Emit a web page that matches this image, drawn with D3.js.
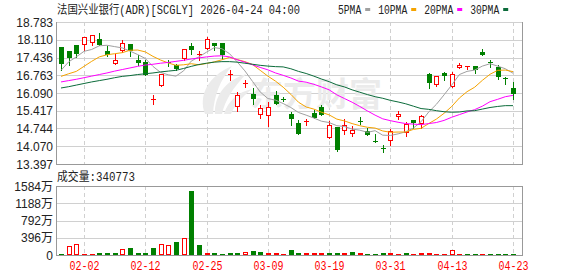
<!DOCTYPE html>
<html>
<head>
<meta charset="utf-8">
<script src="https://cdn.jsdelivr.net/npm/d3@7"></script>
<style>
  body { margin: 0; background: #fff; }
  text { font-family: "Liberation Sans", "Noto Sans CJK SC", sans-serif; }
  .mono { font-family: "Liberation Mono", "Noto Sans CJK SC", monospace; }
</style>
</head>
<body>
<script>
// ---- data ----
let dates = ["01-28","01-29","01-30","02-02","02-03","02-04","02-05","02-06","02-09","02-10",
             "02-11","02-12","02-13","02-17","02-18","02-19","02-20","02-23","02-24","02-25",
             "02-26","02-27","03-02","03-03","03-04","03-05","03-06","03-09","03-10","03-11",
             "03-12","03-13","03-16","03-17","03-18","03-19","03-20","03-23","03-24","03-25",
             "03-26","03-27","03-30","03-31","04-01","04-02","04-06","04-07","04-08","04-09",
             "04-10","04-13","04-14","04-15","04-16","04-17","04-20","04-21","04-22","04-23"];

let opens  = [17.84,17.68,17.90,17.91,17.97,18.15,17.68,17.20,17.68,17.94,
              17.35,17.27,15.85,16.34,17.25,17.16,17.39,17.87,17.58,17.77,
              17.99,17.99,16.80,15.55,16.47,16.06,15.24,15.21,16.00,15.86,
              15.30,14.97,15.03,15.34,15.56,14.38,14.80,14.65,14.55,15.04,
              14.64,14.26,14.01,14.26,15.18,14.56,15.06,14.90,16.82,16.41,
              16.86,16.30,17.04,17.08,17.10,17.64,17.28,17.08,16.64,16.28];
let highs  = [17.84,17.70,17.92,18.23,18.28,18.37,17.87,17.58,18.09,17.94,
              17.52,17.35,16.03,16.80,17.33,17.20,17.74,18.00,17.70,18.20,
              17.99,17.99,16.95,16.13,16.60,16.28,15.62,15.75,16.18,15.92,
              15.37,15.08,15.12,15.45,15.65,15.02,14.80,15.09,14.83,15.18,
              14.76,14.55,14.11,14.71,15.41,14.98,15.06,15.25,16.86,16.72,
              16.90,16.88,17.21,17.11,17.10,17.77,17.33,17.14,16.70,16.51];
let lows   = [16.95,17.14,17.47,17.72,17.92,17.90,17.48,17.20,17.65,17.48,
              17.14,16.78,15.68,16.34,17.12,16.98,17.36,17.58,17.35,17.77,
              17.71,17.39,16.60,15.40,16.32,15.68,15.14,14.84,15.69,15.78,
              14.87,14.55,14.89,15.14,15.27,14.38,13.90,14.55,14.46,14.93,
              14.49,14.25,13.85,14.13,15.12,14.45,14.77,14.77,16.28,16.35,
              16.60,16.30,17.04,17.00,16.86,17.52,17.08,16.61,16.44,15.87];
let closes = [17.20,17.43,17.58,18.23,18.28,17.90,17.52,17.33,17.97,17.68,
              17.24,16.78,15.85,16.80,17.24,17.00,17.74,17.72,17.58,18.15,
              17.86,17.52,16.80,16.00,16.47,15.87,15.52,15.55,15.69,15.84,
              15.12,14.55,15.03,15.14,15.27,14.86,13.94,14.87,14.68,15.03,
              14.49,14.25,14.00,14.64,15.30,14.90,14.97,15.21,16.48,16.72,
              16.74,16.82,17.17,17.11,16.95,17.52,17.27,16.70,16.62,16.07];
// volume in 万 (10k shares)
let volumes = [31,207,253,23,23,46,46,46,130,161,
               46,46,161,253,230,298,383,1470,230,46,
               46,23,46,46,69,92,69,46,46,23,
               115,46,46,46,46,46,46,46,69,46,
               23,23,46,46,23,46,23,46,46,23,
               23,107,23,23,23,23,23,23,23,34.0773];
let lastVolume = "340773";

let ma5  = [16.95,17.27,17.46,17.67,17.74,17.88,17.90,17.85,17.80,17.68,
            17.55,17.40,17.10,16.87,16.78,16.73,16.93,17.30,17.46,17.64,
            17.81,17.77,17.58,17.27,16.93,16.53,16.13,15.88,15.82,15.69,
            15.54,15.35,15.25,15.14,15.02,14.97,14.85,14.82,14.72,14.68,
            14.60,14.66,14.49,14.48,14.54,14.62,14.76,15.00,15.37,15.66,
            16.02,16.39,16.79,16.91,16.96,17.11,17.20,17.11,17.01,16.84];
let ma10 = [16.72,16.82,16.91,17.10,17.29,17.46,17.54,17.58,17.62,17.71,
            17.72,17.65,17.48,17.34,17.23,17.14,17.16,17.20,17.16,17.21,
            17.27,17.35,17.44,17.36,17.28,17.17,16.95,16.73,16.54,16.31,
            16.04,15.74,15.56,15.48,15.36,15.26,15.10,15.03,14.93,14.85,
            14.79,14.76,14.65,14.60,14.61,14.61,14.71,14.75,14.93,15.10,
            15.32,15.58,15.90,16.14,16.31,16.57,16.80,16.95,16.96,16.90];
let ma20 = [16.51,16.56,16.61,16.67,16.73,16.79,16.85,16.92,16.98,17.04,
            17.10,17.15,17.18,17.22,17.25,17.29,17.33,17.38,17.42,17.46,
            17.49,17.50,17.46,17.35,17.26,17.16,17.06,16.97,16.85,16.76,
            16.66,16.54,16.50,16.42,16.32,16.21,16.02,15.88,15.74,15.58,
            15.41,15.25,15.11,15.04,14.98,14.93,14.91,14.89,14.93,14.97,
            15.05,15.17,15.27,15.37,15.46,15.59,15.76,15.85,15.95,16.00];
let ma30 = [16.28,16.33,16.39,16.45,16.51,16.56,16.61,16.67,16.72,16.75,
            16.79,16.82,16.85,16.89,16.92,16.95,17.02,17.10,17.17,17.22,
            17.26,17.28,17.28,17.26,17.22,17.18,17.14,17.11,17.09,17.08,
            17.01,16.91,16.83,16.73,16.62,16.52,16.40,16.32,16.21,16.12,
            16.03,15.95,15.89,15.81,15.75,15.68,15.59,15.50,15.47,15.42,
            15.38,15.36,15.37,15.41,15.42,15.48,15.54,15.58,15.61,15.61];

let priceTicks = [13.397,14.070,14.744,15.417,16.090,16.763,17.436,18.110,18.783];
let priceTickLabels = ["13.397","14.070","14.744","15.417","16.090","16.763","17.436","18.110","18.783"];
let volumeTicks = [0,396,792,1188,1584];
let volumeTickLabels = ["0","396万","792万","1188万","1584万"];
let xTickLabels = ["02-02","02-12","02-25","03-09","03-19","03-31","04-13","04-23"];
let maNames = ["5PMA","10PMA","20PMA","30PMA"];
let maColors = ["#a0a0a0","#f5a300","#ff00ff","#0b6b3a"];

let title = "法国兴业银行(ADR)[SCGLY] 2026-04-24 04:00";

// ---- layout ----
let width = 578, height = 276;
let plotLeft = 56, plotRight = 522;
let priceTop = 22, priceBottom = 164;
let volTop = 186, volBottom = 255;
let red = "#ff0000", green = "#008000";
let gridColor = "#d0d0d0", frameColor = "#999";

let svg = d3.select("body").append("svg")
  .attr("width", width).attr("height", height);

let xScale = d3.scalePoint().domain(dates).range([61, 513]);
let yScale = d3.scaleLinear().domain([13.397, 18.783]).range([priceBottom, priceTop]);
let vScale = d3.scaleLinear().domain([0, 1584]).range([volBottom, volTop]);

let candles = dates.map(function(d, i) {
  return {date: d, open: opens[i], high: highs[i], low: lows[i], close: closes[i],
          vol: volumes[i], prev: i > 0 ? closes[i-1] : opens[i]};
});

function px(v) { return Math.round(v) + 0.5; }
function cxOf(d) { return Math.round(xScale(d)); }

// ---- grid ----
let grid = svg.append("g");
grid.selectAll("line.h").data(priceTicks).enter().append("line")
  .attr("x1", plotLeft).attr("x2", plotRight)
  .attr("y1", function(d){ return px(yScale(d)); })
  .attr("y2", function(d){ return px(yScale(d)); })
  .style("stroke", gridColor);
grid.selectAll("line.vh").data(volumeTicks).enter().append("line")
  .attr("x1", plotLeft).attr("x2", plotRight)
  .attr("y1", function(d){ return px(vScale(d)); })
  .attr("y2", function(d){ return px(vScale(d)); })
  .style("stroke", gridColor);
xTickLabels.forEach(function(t) {
  let x = cxOf(t) + 0.5;
  [[priceTop, priceBottom], [volTop, volBottom]].forEach(function(r) {
    grid.append("line").attr("x1", x).attr("x2", x).attr("y1", r[0]).attr("y2", r[1])
      .style("stroke", gridColor).style("stroke-dasharray", "4,3");
  });
});

// ---- watermark ----
let wm = svg.append("g").style("fill", "#ebebeb");
wm.append("path").attr("d", "M205 114 C198 96 208 76 232 66 C220 80 214 96 213 114 Z");
wm.append("path").attr("d", "M215 114 C214 96 226 80 246 74 C233 88 225 100 222 114 Z");
wm.append("path").attr("d", "M224 114 C228 101 238 92 252 89 C241 98 234 106 231 114 Z");
wm.append("text").attr("x", 250).attr("y", 106)
  .style("font-family", "Noto Sans CJK SC").style("font-size", "33px").style("font-weight", "bold")
  .text("东方财富");

// ---- frames ----
svg.append("line").attr("x1", plotLeft + 0.5).attr("x2", plotLeft + 0.5)
  .attr("y1", priceTop).attr("y2", priceBottom + 1).style("stroke", frameColor);
svg.append("line").attr("x1", plotRight + 0.5).attr("x2", plotRight + 0.5)
  .attr("y1", priceTop).attr("y2", priceBottom + 1).style("stroke", frameColor);
svg.append("line").attr("x1", plotLeft).attr("x2", plotRight + 1)
  .attr("y1", priceBottom + 0.5).attr("y2", priceBottom + 0.5).style("stroke", frameColor);
svg.append("rect").attr("x", plotLeft + 0.5).attr("y", volTop + 0.5)
  .attr("width", plotRight - plotLeft).attr("height", volBottom - volTop)
  .style("fill", "none").style("stroke", frameColor);

// ---- candles ----
let graph = svg.append("g");
graph.selectAll("line.wick").data(candles).enter().append("line")
  .attr("x1", function(d){ return cxOf(d.date) + 0.5; })
  .attr("x2", function(d){ return cxOf(d.date) + 0.5; })
  .attr("y1", function(d){ return Math.round(yScale(d.high)); })
  .attr("y2", function(d){ return Math.round(yScale(d.low)) + 1; })
  .style("stroke", function(d){ return d.close >= d.open ? red : green; });

graph.selectAll("rect.body").data(candles).enter().append("rect")
  .each(function(d) {
    let cx = cxOf(d.date);
    let yT = Math.round(yScale(Math.max(d.open, d.close)));
    let yB = Math.round(yScale(Math.min(d.open, d.close)));
    let up = d.close >= d.open;
    let el = d3.select(this);
    if (yB - yT < 2) {
      el.attr("x", cx - 2).attr("y", yT).attr("width", 5).attr("height", Math.max(1, yB - yT))
        .style("fill", up ? red : green);
    } else if (up) {
      el.attr("x", cx - 1.5).attr("y", yT + 0.5).attr("width", 4).attr("height", yB - yT - 1)
        .style("fill", "#fff").style("stroke", red);
    } else {
      el.attr("x", cx - 2).attr("y", yT).attr("width", 5).attr("height", yB - yT)
        .style("fill", green);
    }
  });

// ---- moving averages ----
[ma5, ma10, ma20, ma30].forEach(function(series, k) {
  let line = d3.line()
    .x(function(d, i){ return xScale(dates[i]); })
    .y(function(d){ return yScale(d); });
  svg.append("path").datum(series).attr("d", line)
    .style("fill", "none").style("stroke", maColors[k]).style("stroke-width", 1);
});

// ---- volume ----
svg.selectAll("rect.vol").data(candles).enter().append("rect")
  .each(function(d) {
    let cx = cxOf(d.date);
    let top = Math.min(Math.round(vScale(d.vol)), volBottom - 1);
    let up = d.close > d.prev || (d.close == d.prev && d.close >= d.open);
    let el = d3.select(this);
    if (up && volBottom - top > 2) {
      el.attr("x", cx - 1.5).attr("y", top + 0.5).attr("width", 4).attr("height", volBottom - top - 1)
        .style("fill", "#fff").style("stroke", red);
    } else {
      el.attr("x", cx - 2).attr("y", top).attr("width", 5).attr("height", volBottom - top)
        .style("fill", up ? red : green);
    }
  });

// ---- axis labels ----
svg.selectAll("text.py").data(priceTicks).enter().append("text")
  .attr("x", 53).attr("y", function(d){ return yScale(d) + 4.5; })
  .attr("text-anchor", "end").style("font-size", "12px").style("fill", "#222")
  .text(function(d, i){ return priceTickLabels[i]; });
svg.selectAll("text.vy").data(volumeTicks).enter().append("text")
  .attr("x", 53).attr("y", function(d){ return vScale(d) + 4.5; })
  .attr("text-anchor", "end").style("font-size", "12px").style("fill", "#222")
  .text(function(d, i){ return volumeTickLabels[i]; });
svg.selectAll("text.xl").data(xTickLabels).enter().append("text")
  .attr("class", "mono")
  .attr("x", function(d){ return cxOf(d) + 0.5; }).attr("y", 270)
  .attr("text-anchor", "middle").attr("textLength", 30).attr("lengthAdjust", "spacingAndGlyphs")
  .style("font-size", "12px").style("fill", red)
  .text(function(d){ return d; });

// ---- title, legend, volume label ----
svg.append("text").attr("class", "mono").attr("x", 57).attr("y", 14)
  .attr("textLength", 243).attr("lengthAdjust", "spacingAndGlyphs")
  .style("font-size", "12px").style("fill", "#222").text(title);

let lx = 338;
maNames.forEach(function(name, k) {
  let w = name.length * 5.8;
  svg.append("text").attr("class", "mono").attr("x", lx).attr("y", 14)
    .attr("textLength", w).attr("lengthAdjust", "spacingAndGlyphs")
    .style("font-size", "12px").style("fill", "#222").text(name);
  svg.append("rect").attr("x", lx + w + 4).attr("y", 8).attr("width", 5).attr("height", 3)
    .style("fill", maColors[k]);
  lx = lx + w + 4 + 5 + 8;
});

svg.append("text").attr("class", "mono").attr("x", 57).attr("y", 181)
  .attr("textLength", 78).attr("lengthAdjust", "spacingAndGlyphs")
  .style("font-size", "12px").style("fill", "#222").text("成交量:" + lastVolume);
</script>
</body>
</html>
